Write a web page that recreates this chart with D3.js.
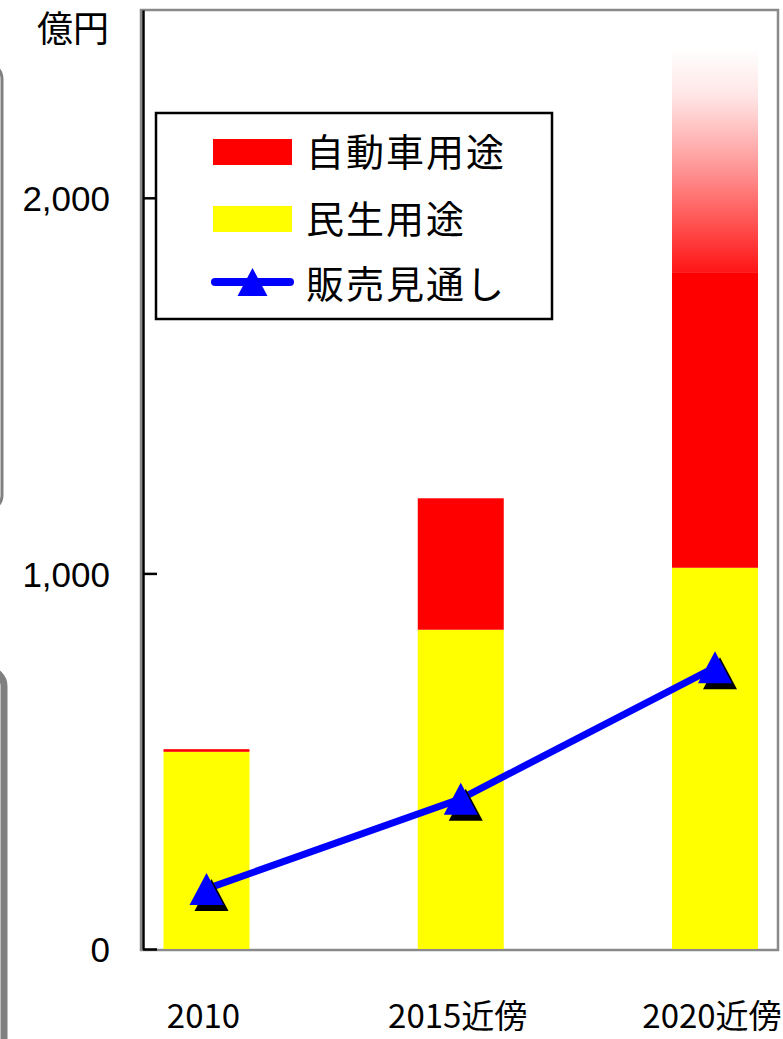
<!DOCTYPE html>
<html>
<head>
<meta charset="utf-8">
<script src="https://cdn.jsdelivr.net/npm/d3@7"></script>
<style>
  html, body { margin: 0; padding: 0; background: #ffffff; }
  svg { display: block; }
  text { font-family: "Noto Sans CJK JP", "Noto Sans", sans-serif; fill: #000; }
</style>
</head>
<body>
<svg id="chart" width="783" height="1039"></svg>
<script>
// Categories and series (億円)
const categories = ["2010", "2015近傍", "2020近傍"];
const civilian = [525, 850, 1015];          // 民生用途
const automotive = [7, 350, 785];           // 自動車用途
const automotiveUpside = [0, 0, 590];       // 自動車用途 (上振れ幅, fading)
const salesOutlook = [160, 400, 750];       // 販売見通し
const yTicks = [0, 1000, 2000];
const yMax = 2500;

const legendItems = [
  { label: "自動車用途", kind: "bar", color: "#ff0000" },
  { label: "民生用途", kind: "bar", color: "#ffff00" },
  { label: "販売見通し", kind: "line", color: "#0000ff" }
];

const svg = d3.select("#chart");

// Plot frame geometry
const plotL = 143, plotR = 778, plotT = 10, plotB = 949;

const y = d3.scaleLinear().domain([0, yMax]).range([plotB, plotT]);
const x = d3.scalePoint().domain(categories).range([plotL + 63.5, plotL + 572]);
const barW = 86;

// Background decorations at the left edge
svg.append("rect")
  .attr("x", -200).attr("y", 63).attr("width", 202).attr("height", 448)
  .attr("rx", 16)
  .attr("fill", "none").attr("stroke", "#808080").attr("stroke-width", 3);
svg.append("rect")
  .attr("x", -200).attr("y", 670).attr("width", 204).attr("height", 500)
  .attr("rx", 16)
  .attr("fill", "none").attr("stroke", "#808080").attr("stroke-width", 7);

// Gradient for the upside part of the automotive bar
const defs = svg.append("defs");
const grad = defs.append("linearGradient")
  .attr("id", "upside").attr("x1", 0).attr("y1", 1).attr("x2", 0).attr("y2", 0);
grad.append("stop").attr("offset", "0%").attr("stop-color", "#ff1414");
grad.append("stop").attr("offset", "45%").attr("stop-color", "#ff9090");
grad.append("stop").attr("offset", "80%").attr("stop-color", "#ffe6e6");
grad.append("stop").attr("offset", "100%").attr("stop-color", "#fffdfd");

// Plot frame
svg.append("rect")
  .attr("x", plotL - 2).attr("y", plotT).attr("width", plotR - plotL + 2).attr("height", plotB - plotT + 1)
  .attr("fill", "none").attr("stroke", "#8a8a8a").attr("stroke-width", 2.5);

// Stacked bars
const stackRows = categories.map((c, i) => ({
  cat: c, civilian: civilian[i], automotive: automotive[i], upside: automotiveUpside[i]
}));
const series = d3.stack().keys(["civilian", "automotive", "upside"])(stackRows);
const fills = { civilian: "#ffff00", automotive: "#ff0000", upside: "url(#upside)" };

svg.append("g").selectAll("g")
  .data(series)
  .join("g")
  .attr("fill", d => fills[d.key])
  .selectAll("rect")
  .data(d => d.filter(s => s[1] > s[0]))
  .join("rect")
  .attr("x", d => x(d.data.cat) - barW / 2)
  .attr("y", d => y(d[1]))
  .attr("width", barW)
  .attr("height", d => y(d[0]) - y(d[1]));

// Y axis with inward ticks
const yAxis = d3.axisLeft(y)
  .tickValues(yTicks)
  .tickFormat(d3.format(","))
  .tickSize(-14)
  .tickSizeOuter(0)
  .tickPadding(33);
const gy = svg.append("g").attr("transform", `translate(${plotL},0)`).call(yAxis);
gy.select(".domain").attr("stroke", "#000").attr("stroke-width", 2.5);
gy.selectAll(".tick line").attr("stroke", "#000").attr("stroke-width", 2.5);
gy.selectAll(".tick text")
  .attr("font-size", 35)
  .attr("dy", "0.36em")
  .style("font-family", "'Liberation Sans', Arial, sans-serif")
  .attr("fill", "#000");

// Unit label
svg.append("text")
  .attr("x", 109).attr("y", 42)
  .attr("text-anchor", "end")
  .attr("font-size", 36)
  .text("億円");

// Category labels
svg.append("g").selectAll("text")
  .data(categories)
  .join("text")
  .attr("x", d => x(d) - 3)
  .attr("y", 1028)
  .attr("text-anchor", "middle")
  .attr("font-size", 33)
  .text(d => d);

// Sales outlook line
const linePts = categories.map((c, i) => [x(c), y(salesOutlook[i])]);
svg.append("path")
  .datum(linePts)
  .attr("d", d3.line())
  .attr("fill", "none")
  .attr("stroke", "#0000ff")
  .attr("stroke-width", 7);

// Triangle markers with a dark drop shadow
const tri = (cx, cy, w, h) =>
  `M${cx},${cy - h / 2}L${cx + w / 2},${cy + h / 2}L${cx - w / 2},${cy + h / 2}Z`;
const markers = svg.append("g");
markers.selectAll("path.shadow")
  .data(linePts)
  .join("path")
  .attr("class", "shadow")
  .attr("d", d => tri(d[0] + 5, d[1] + 6, 34, 32))
  .attr("fill", "#000");
markers.selectAll("path.mark")
  .data(linePts)
  .join("path")
  .attr("class", "mark")
  .attr("d", d => tri(d[0], d[1], 34, 32))
  .attr("fill", "#0000ff");

// Legend
const lg = svg.append("g");
lg.append("rect")
  .attr("x", 156).attr("y", 113).attr("width", 396).attr("height", 206)
  .attr("fill", "#fff").attr("stroke", "#000").attr("stroke-width", 2.5);
const rowY = [152, 219, 284];
const items = lg.selectAll("g.item")
  .data(legendItems)
  .join("g")
  .attr("class", "item")
  .attr("transform", (d, i) => `translate(0,${rowY[i]})`);
items.filter(d => d.kind === "bar").append("rect")
  .attr("x", 213).attr("y", -13).attr("width", 79).attr("height", 26)
  .attr("fill", d => d.color);
const lineItems = items.filter(d => d.kind === "line");
lineItems.append("line")
  .attr("x1", 215).attr("x2", 290).attr("y1", -2).attr("y2", -2)
  .attr("stroke", d => d.color).attr("stroke-width", 8).attr("stroke-linecap", "round");
lineItems.append("path")
  .attr("d", tri(252.5, -2, 30, 28))
  .attr("fill", d => d.color);
items.append("text")
  .attr("x", 306).attr("y", 0)
  .attr("dy", "0.36em")
  .attr("font-size", 38)
  .attr("letter-spacing", 2)
  .text(d => d.label);
</script>
</body>
</html>
